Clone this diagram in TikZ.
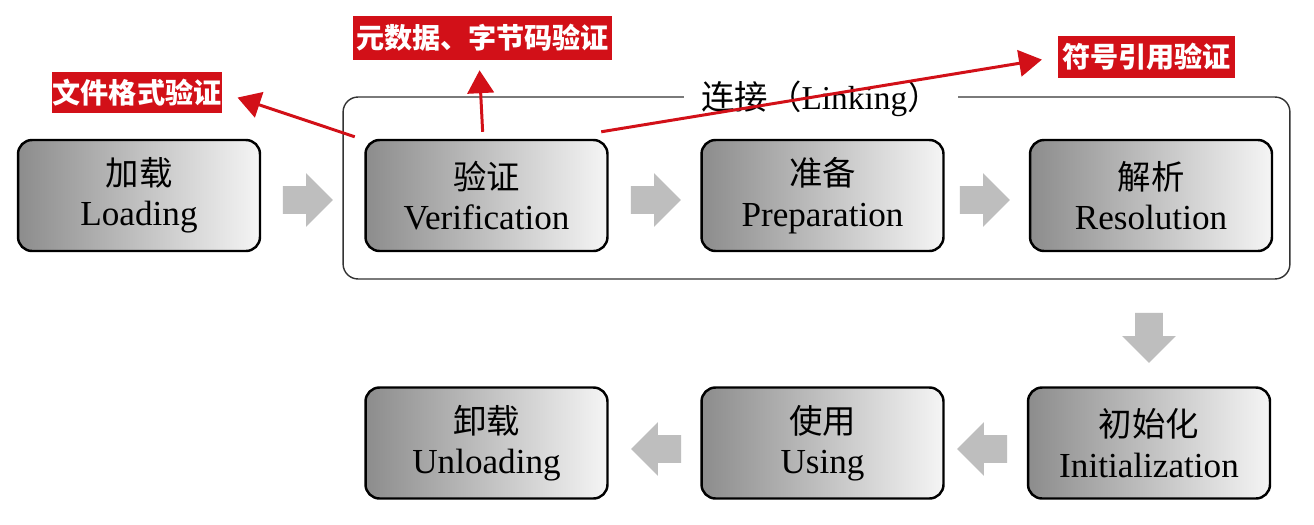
\documentclass[tikz,border=0pt]{standalone}
\usepackage{fontspec}
\setmainfont{Liberation Serif}
\newfontfamily\cjk{Noto Sans CJK SC}
\usetikzlibrary{arrows.meta,shapes.arrows}
\definecolor{markred}{RGB}{210,16,24}
\definecolor{flowgray}{RGB}{190,190,190}
\begin{document}
\begin{tikzpicture}[x=0.02cm,y=-0.02cm,
  stage/.style={draw=black, line width=1.4pt, rounded corners=0.28cm,
    left color=black!45, right color=white!96!black,
    minimum width=4.84cm, minimum height=2.22cm, inner sep=0pt,
    align=center, font=\fontsize{20pt}{23pt}\selectfont},
  flow/.style={single arrow, fill=flowgray, draw=none, inner xsep=0pt,
    inner ysep=0.27cm, minimum height=1cm, single arrow head extend=0.26cm},
  flowdown/.style={flow, shape border rotate=270, inner xsep=0.27cm, inner ysep=0pt},
  note/.style={fill=markred, text=white, inner sep=0pt,
    font=\cjk\bfseries\fontsize{16pt}{19pt}\selectfont},
  pointer/.style={draw=markred, line width=1.7pt,
    -{Triangle[length=13pt,width=15pt]}}]
\fill[white] (0,0) rectangle (1314,524);
\useasboundingbox (0,0) rectangle (1314,524);

% the linking phase groups three stages
\node[draw=black!80, line width=0.8pt, rounded corners=0.3cm,
  minimum width=18.94cm, minimum height=3.64cm, inner sep=0pt] (linking) at (816.5,188) {};
\node[fill=white, inner xsep=0.35cm, inner ysep=1pt,
  font=\fontsize{19pt}{22pt}\selectfont] (linklabel) at (821,99)
  {{\cjk 连接（}Linking{\cjk ）}};

% stages
\node[stage] (load)   at (139,195.5)  {{\cjk\fontsize{19pt}{23pt}\selectfont 加载}\\Loading};
\node[stage] (verify) at (486.5,195.5){{\cjk\fontsize{19pt}{23pt}\selectfont 验证}\\Verification};
\node[stage] (prep)   at (822.5,195.5){{\cjk\fontsize{19pt}{23pt}\selectfont 准备}\\Preparation};
\node[stage] (resol)  at (1151,195.5) {{\cjk\fontsize{19pt}{23pt}\selectfont 解析}\\Resolution};
\node[stage] (init)   at (1149,443)   {{\cjk\fontsize{19pt}{23pt}\selectfont 初始化}\\Initialization};
\node[stage] (use)    at (822.5,443)  {{\cjk\fontsize{19pt}{23pt}\selectfont 使用}\\Using};
\node[stage] (unload) at (486.5,443)  {{\cjk\fontsize{19pt}{23pt}\selectfont 卸载}\\Unloading};

% block arrows between stages
\node[flow] (f1) at (301,200) {};
\node[flow] (f2) at (649,200) {};
\node[flow] (f3) at (978,200) {};
\node[flowdown] (f4) at (1149,331) {};
\node[flow, shape border rotate=180] (f5) at (989,449) {};
\node[flow, shape border rotate=180] (f6) at (663,449) {};

% verification checks
\node[note, minimum width=3.4cm, minimum height=0.82cm] (fmt)  at (137,92.5) {文件格式验证};
\node[note, minimum width=5.2cm, minimum height=0.88cm] (meta) at (482.5,38) {元数据、字节码验证};
\node[note, minimum width=3.54cm, minimum height=0.84cm] (sym) at (1146.5,57) {符号引用验证};

\draw[pointer, shorten >=0.32cm] ([shift={(-0.19cm,0.04cm)}]verify.north west) -- (fmt.east);
\draw[pointer, shorten >=0.2cm, shorten <=0.14cm] ([xshift=-0.07cm]verify.north) -- ([xshift=-0.07cm]meta.south);
\draw[pointer, shorten >=0.32cm] ([shift={(-0.15cm,0.14cm)}]verify.north east) -- (sym.west);
\end{tikzpicture}
\end{document}
